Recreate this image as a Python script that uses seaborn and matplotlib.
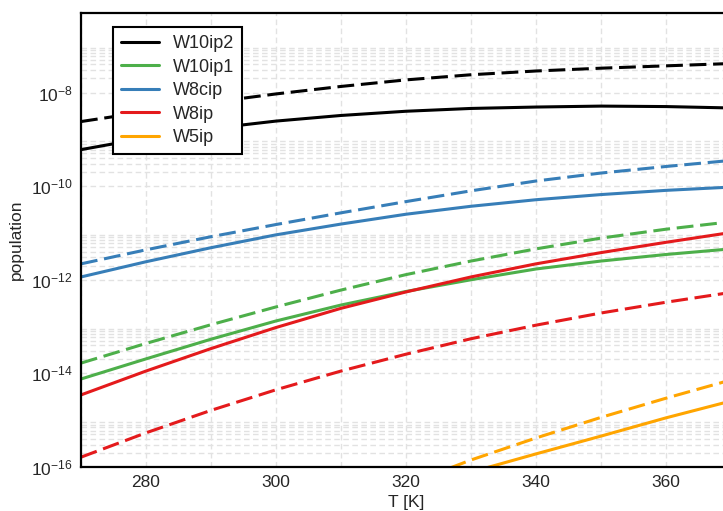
import numpy as np
import pandas as pd
import matplotlib
matplotlib.use("Agg")
import matplotlib.pyplot as plt
import matplotlib.ticker as mticker
from matplotlib.lines import Line2D
import seaborn as sns

# ---- data (log10 of population) ----
T = [270, 280, 290, 300, 310, 320, 330, 340, 350, 360, 370]
species = ["W10ip2", "W10ip1", "W8cip", "W8ip", "W5ip"]
colors = ["#000000", "#4daf4a", "#377eb8", "#e41a1c", "#ffa500"]

w10ip2_solid = [-9.22, -8.97, -8.77, -8.61, -8.49, -8.40, -8.34, -8.31, -8.29, -8.30, -8.33]
w10ip2_dash = [-8.62, -8.41, -8.21, -8.03, -7.87, -7.73, -7.62, -7.54, -7.48, -7.43, -7.38]
w10ip1_solid = [-14.12, -13.69, -13.27, -12.88, -12.54, -12.25, -12.00, -11.77, -11.60, -11.46, -11.34]
w10ip1_dash = [-13.78, -13.36, -12.96, -12.58, -12.22, -11.89, -11.60, -11.34, -11.11, -10.92, -10.76]
w8cip_solid = [-11.94, -11.615, -11.315, -11.04, -10.81, -10.60, -10.43, -10.29, -10.18, -10.09, -10.02]
w8cip_dash = [-11.66, -11.36, -11.08, -10.82, -10.57, -10.33, -10.10, -9.89, -9.72, -9.58, -9.45]
w8ip_solid = [-14.46, -13.95, -13.47, -13.02, -12.61, -12.26, -11.94, -11.66, -11.42, -11.20, -10.99]
w8ip_dash = [-15.79, -15.27, -14.79, -14.35, -13.95, -13.59, -13.26, -12.97, -12.71, -12.48, -12.27]
w5ip_T = [320, 330, 340, 350, 360, 370]
w5ip_solid = [-16.50, -16.11, -15.72, -15.34, -14.95, -14.59]
w5ip_dash = [-16.38, -15.85, -15.38, -14.94, -14.53, -14.14]

series = {
    ("W10ip2", "a"): (T, w10ip2_solid), ("W10ip2", "b"): (T, w10ip2_dash),
    ("W10ip1", "a"): (T, w10ip1_solid), ("W10ip1", "b"): (T, w10ip1_dash),
    ("W8cip", "a"): (T, w8cip_solid), ("W8cip", "b"): (T, w8cip_dash),
    ("W8ip", "a"): (T, w8ip_solid), ("W8ip", "b"): (T, w8ip_dash),
    ("W5ip", "a"): (w5ip_T, w5ip_solid), ("W5ip", "b"): (w5ip_T, w5ip_dash),
}
rows = []
for (sp, kind), (tt, vals) in series.items():
    for t, v in zip(tt, vals):
        rows.append({"species": sp, "kind": kind, "T": t, "population": 10.0 ** v})
df = pd.DataFrame(rows)

# ---- style ----
sns.set_style("white")
plt.rcParams["font.family"] = ["Liberation Sans", "DejaVu Sans"]
plt.rcParams["mathtext.fontset"] = "custom"
plt.rcParams["mathtext.rm"] = "Liberation Sans"
plt.rcParams["mathtext.it"] = "Liberation Sans:italic"

fig = plt.figure(figsize=(7.23, 5.11), dpi=100)
W, H = 723, 511
ax = fig.add_axes([81 / W, (H - 467) / H, 650 / W, 454 / H])

sns.lineplot(data=df, x="T", y="population", hue="species", style="kind",
             hue_order=species, palette=colors,
             dashes={"a": "", "b": (5.5, 2.2)}, linewidth=2.2,
             legend=False, ax=ax, estimator=None, sort=True)

ax.set_yscale("log")
ax.set_xlim(270, 370)
ax.set_ylim(1e-16, 5e-7)

ax.xaxis.set_major_locator(mticker.MultipleLocator(20))
ax.xaxis.set_minor_locator(mticker.MultipleLocator(10))
ax.yaxis.set_major_locator(mticker.FixedLocator([1e-16, 1e-14, 1e-12, 1e-10, 1e-8]))
ax.yaxis.set_major_formatter(mticker.LogFormatterSciNotation())
minors = [k * 10.0 ** e for e in range(-16, -6, 2) for k in range(2, 10)]
ax.yaxis.set_minor_locator(mticker.FixedLocator(minors))
ax.yaxis.set_minor_formatter(mticker.NullFormatter())

ax.grid(True, which="both", color="#e2e2e2", linestyle=(0, (4, 2.5)), linewidth=1.0)
ax.set_axisbelow(True)
ax.tick_params(which="both", length=0, labelsize=12.5, pad=6)
for s in ax.spines.values():
    s.set_color("black")
    s.set_linewidth(1.6)

ax.set_xlabel("T [K]", fontsize=12.5, labelpad=3)
ax.set_ylabel("population", fontsize=12.5, labelpad=5)

handles = [Line2D([0], [0], color=c, lw=2.2) for c in colors]
leg = ax.legend(handles, species, loc="upper left", bbox_to_anchor=(32 / 650, 1 - 14 / 454),
                borderaxespad=0, frameon=True, fancybox=False, fontsize=13,
                handlelength=2.1, handletextpad=0.75, labelspacing=0.36, borderpad=0.45)
leg.get_frame().set_edgecolor("black")
leg.get_frame().set_linewidth(1.5)
leg.get_frame().set_alpha(1.0)

fig.savefig("out.png", dpi=100)
